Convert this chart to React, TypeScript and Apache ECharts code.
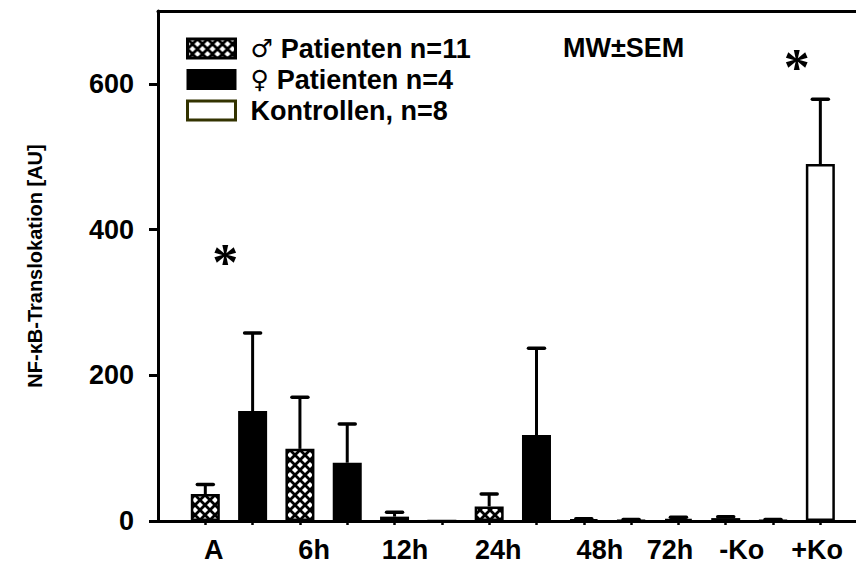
import React, { useEffect, useRef } from "react";
import * as echarts from "echarts";

// ---- data ----
const categories = ["A", "6h", "12h", "24h", "48h", "72h", "-Ko", "+Ko"];
const categoryLabelPositions = [1.18, 3.3, 5.22, 7.19, 9.34, 10.82, 12.34, 13.93];

const malePositions = [1, 3, 5, 7, 9, 11];
const maleValues = [37, 99, 6, 20, 2, 3];
const maleErrors = [13, 71, 6, 17, 1, 2];

const femalePositions = [2, 4, 6, 8, 10, 12];
const femaleValues = [151, 80, 0, 118, 1, 4];
const femaleErrors = [107, 53, 0, 119, 1, 2];

const controlPositions = [13, 14];
const controlValues = [1, 490];
const controlErrors = [1, 89];

const yTicks = [0, 200, 400, 600];

const significancePositions = [1.42, 13.5];
const significanceValues = [364, 632];

const seriesNames = ["♂ Patienten n=11", "♀ Patienten n=4", "Kontrollen, n=8"];

const FONT = "Liberation Sans";
const X_MAX = 698 / 47.31;

function makeHatch(): HTMLCanvasElement {
  const c = document.createElement("canvas");
  const s = 10;
  c.width = s;
  c.height = s;
  const ctx = c.getContext("2d")!;
  ctx.fillStyle = "#fff";
  ctx.fillRect(0, 0, s, s);
  ctx.strokeStyle = "#000";
  ctx.lineWidth = 2.8;
  ctx.beginPath();
  ctx.moveTo(-2, -2);
  ctx.lineTo(s + 2, s + 2);
  ctx.moveTo(s + 2, -2);
  ctx.lineTo(-2, s + 2);
  ctx.stroke();
  return c;
}

export default function App() {
  const ref = useRef<HTMLDivElement>(null);

  useEffect(() => {
    if (!ref.current) return;
    const chart = echarts.init(ref.current, null, { renderer: "svg" });
    const hatch = { image: makeHatch(), repeat: "repeat", imageWidth: 10, imageHeight: 10 } as any;

    const errData: number[][] = [];
    malePositions.forEach((x, i) => errData.push([x, maleValues[i], maleErrors[i]]));
    femalePositions.forEach((x, i) => errData.push([x, femaleValues[i], femaleErrors[i]]));
    controlPositions.forEach((x, i) => errData.push([x, controlValues[i], controlErrors[i]]));

    const barCommon = {
      type: "bar" as const,
      barWidth: 29,
      barGap: "-100%",
      z: 3,
    };

    chart.setOption({
      animation: false,
      textStyle: { fontFamily: FONT },
      title: {
        text: "MW±SEM",
        left: 558,
        top: 29,
        textStyle: { fontFamily: FONT, fontWeight: "bold", fontSize: 27, color: "#000", lineHeight: 27 },
      },
      legend: {
        left: 181,
        top: 30,
        orient: "vertical",
        icon: "rect",
        itemWidth: 48,
        itemHeight: 19,
        itemGap: 4,
        data: [
          { name: seriesNames[0], itemStyle: { borderColor: "#000", borderWidth: 3 } },
          { name: seriesNames[1] },
          { name: seriesNames[2], itemStyle: { borderColor: "#333300", borderWidth: 3 } },
        ],
        formatter: (name: string) => {
          if (name.startsWith("♂") || name.startsWith("♀")) {
            return `{sym|${name[0]} }{b|${name.slice(2)}}`;
          }
          return `{b|${name}}`;
        },
        textStyle: {
          padding: [0, 0, 0, 10],
          rich: {
            sym: { fontFamily: "DejaVu Sans", fontSize: 25, color: "#000", fontWeight: "normal", lineHeight: 26 },
            b: { fontFamily: FONT, fontSize: 27, fontWeight: "bold", color: "#000", lineHeight: 26 },
          },
        },
      },
      grid: {
        left: 158,
        top: 11,
        right: 0,
        bottom: 49,
      },
      xAxis: [
        {
          type: "value",
          min: 0,
          max: X_MAX,
          splitLine: { show: false },
          axisLine: { onZero: false, lineStyle: { color: "#000", width: 3 } },
          axisTick: {
            show: true,
            length: 4,
            lineStyle: { color: "#000", width: 2.5 },
            customValues: [...malePositions, ...femalePositions, ...controlPositions],
          },
          axisLabel: {
            customValues: categoryLabelPositions,
            formatter: (v: number) => {
              const i = categoryLabelPositions.findIndex((p) => Math.abs(p - v) < 1e-6);
              return i >= 0 ? categories[i] : "";
            },
            fontFamily: FONT,
            fontWeight: "bold",
            fontSize: 27,
            color: "#000",
            margin: 15,
          },
        },
        {
          type: "value",
          position: "top",
          min: 0,
          max: X_MAX,
          splitLine: { show: false },
          axisLine: { show: true, onZero: false, lineStyle: { color: "#000", width: 3 } },
          axisTick: { show: false },
          axisLabel: { show: false },
        },
      ],
      yAxis: {
        type: "value",
        min: 0,
        max: 700,
        name: "NF-κB-Translokation [AU]",
        nameLocation: "middle",
        nameGap: 113,
        nameTextStyle: {
          fontFamily: FONT,
          fontWeight: "bold",
          fontSize: 20,
          color: "#000",
        },
        splitLine: { show: false },
        axisLine: { show: true, lineStyle: { color: "#000", width: 3 } },
        axisTick: {
          show: true,
          length: 9,
          lineStyle: { color: "#000", width: 3 },
          customValues: yTicks,
        },
        axisLabel: {
          customValues: yTicks,
          fontFamily: FONT,
          fontWeight: "bold",
          fontSize: 27,
          color: "#000",
          margin: 24,
        },
      },
      series: [
        {
          ...barCommon,
          name: seriesNames[0],
          data: malePositions.map((x, i) => [x, maleValues[i]]),
          itemStyle: { color: hatch, borderColor: "#000", borderWidth: 2.5 },
        },
        {
          ...barCommon,
          name: seriesNames[1],
          data: femalePositions.map((x, i) => [x, femaleValues[i]]),
          itemStyle: { color: "#000", borderColor: "#000", borderWidth: 2.5 },
        },
        {
          ...barCommon,
          name: seriesNames[2],
          data: controlPositions.map((x, i) => [x, controlValues[i]]),
          itemStyle: { color: "#fff", borderColor: "#000", borderWidth: 2.5 },
        },
        {
          type: "custom",
          name: "SEM",
          z: 4,
          data: errData,
          renderItem: (_params: any, api: any) => {
            const x = api.value(0);
            const y = api.value(1);
            const e = api.value(2);
            if (!e) return null;
            const p0 = api.coord([x, y]);
            const p1 = api.coord([x, y + e]);
            return {
              type: "group",
              children: [
                {
                  type: "line",
                  shape: { x1: p0[0], y1: p0[1], x2: p1[0], y2: p1[1] },
                  style: { stroke: "#000", lineWidth: 3 },
                },
                {
                  type: "line",
                  shape: { x1: p1[0] - 8, y1: p1[1], x2: p1[0] + 8, y2: p1[1] },
                  style: { stroke: "#000", lineWidth: 3.5, lineCap: "round" },
                },
              ],
            };
          },
        },
        {
          type: "scatter",
          name: "Signifikanz",
          symbolSize: 0,
          z: 5,
          itemStyle: { opacity: 1 },
          data: significancePositions.map((x, i) => [x, significanceValues[i]]),
          label: {
            show: true,
            position: "inside",
            formatter: "*",
            fontFamily: "Liberation Serif",
            fontWeight: "bold",
            fontSize: 52,
            color: "#000",
            opacity: 1,
            offset: [0, 7],
          },
        },
      ],
    });

    return () => chart.dispose();
  }, []);

  return (
    <div
      ref={ref}
      style={{ position: "fixed", left: 0, top: 0, width: 856, height: 570, background: "#fff" }}
    />
  );
}
